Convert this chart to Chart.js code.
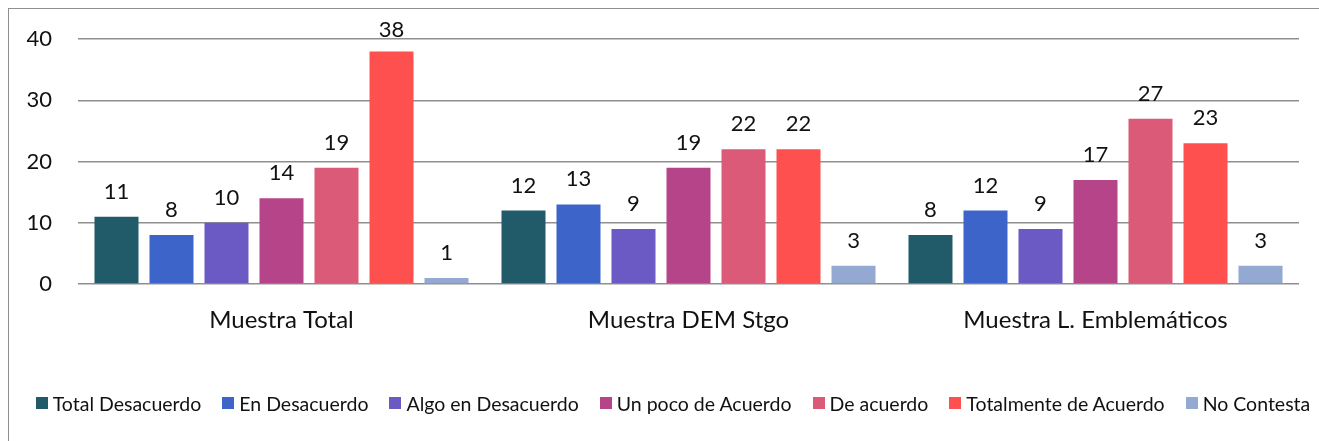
<!DOCTYPE html>
<html>
<head>
<meta charset="utf-8">
<script src="https://cdn.jsdelivr.net/npm/chart.js@4.4.1/dist/chart.umd.min.js"></script>
<style>
  html, body { margin: 0; padding: 0; background: #fff; overflow: hidden; }
  #wrap { position: relative; width: 1319px; height: 441px; }
  #frame { position: absolute; left: 8px; top: 8px; width: 1400px; height: 600px;
           border: 1.5px solid #8f8f8f; box-sizing: border-box; }
  canvas { position: absolute; left: 0; top: 0; }
  #leyenda { position: absolute; left: 0; top: 392px; width: 1346px; height: 22px;
             display: flex; justify-content: center; align-items: center; gap: 21px;
             font: 19.5px Lato, "DejaVu Sans", sans-serif; color: #111; white-space: nowrap; }
  #leyenda .item { display: flex; align-items: center; }
  #leyenda .caja { width: 12px; height: 12px; margin-right: 5px; }
</style>
</head>
<body>
<div id="wrap">
  <div id="frame"></div>
  <canvas id="chart" width="1319" height="441"></canvas>
  <div id="leyenda"></div>
</div>
<script>
// categorías y series
const categorias = ['Muestra Total', 'Muestra DEM Stgo', 'Muestra L. Emblemáticos'];
const series = ['Total Desacuerdo', 'En Desacuerdo', 'Algo en Desacuerdo', 'Un poco de Acuerdo',
                'De acuerdo', 'Totalmente de Acuerdo', 'No Contesta'];
const totalDesacuerdo = [11, 12, 8];
const enDesacuerdo = [8, 13, 12];
const algoEnDesacuerdo = [10, 9, 9];
const unPocoDeAcuerdo = [14, 19, 17];
const deAcuerdo = [19, 22, 27];
const totalmenteDeAcuerdo = [38, 22, 23];
const noContesta = [1, 3, 3];
const yTicks = [0, 10, 20, 30, 40];

const colores = ['#215a68', '#3c64c9', '#6b5ac4', '#b54588', '#db5a77', '#ff5050', '#94a9d1'];
const valores = [totalDesacuerdo, enDesacuerdo, algoEnDesacuerdo, unPocoDeAcuerdo,
                 deAcuerdo, totalmenteDeAcuerdo, noContesta];

const FUENTE = 'Lato, "DejaVu Sans", sans-serif';

// etiquetas con el valor encima de cada barra
const etiquetasValor = {
    id: 'etiquetasValor',
    afterDatasetsDraw(chart) {
        const ctx = chart.ctx;
        ctx.save();
        ctx.font = '22px ' + FUENTE;
        ctx.fillStyle = '#111';
        ctx.textAlign = 'center';
        ctx.textBaseline = 'alphabetic';
        chart.data.datasets.forEach((ds, i) => {
            chart.getDatasetMeta(i).data.forEach((bar, j) => {
                const y = Math.max(bar.y - 18, 37);
                ctx.fillText(String(ds.data[j]), bar.x, y);
            });
        });
        ctx.restore();
    }
};

const grafico = new Chart(document.getElementById('chart'), {
    type: 'bar',
    data: {
        labels: categorias,
        datasets: series.map((nombre, i) => ({
            label: nombre,
            data: valores[i],
            backgroundColor: colores[i],
            borderWidth: 0,
            categoryPercentage: 0.946,
            barPercentage: 0.8
        }))
    },
    options: {
        responsive: false,
        animation: false,
        layout: { padding: { top: 38, right: 20, left: 0, bottom: 0 } },
        plugins: {
            tooltip: { enabled: false },
            legend: { display: false }
        },
        scales: {
            x: {
                grid: { display: false, drawTicks: false },
                border: { display: false },
                ticks: { color: '#111', padding: 22, font: { family: FUENTE, size: 24 } },
                afterFit(scale) { scale.height = 157; }
            },
            y: {
                min: 0,
                max: 40,
                afterBuildTicks(scale) { scale.ticks = yTicks.map(v => ({ value: v })); },
                afterFit(scale) { scale.width = 78; },
                grid: { color: '#8f8f8f', lineWidth: 1.5, drawTicks: false },
                border: { display: false },
                ticks: { color: '#111', padding: 26, font: { family: FUENTE, size: 22 } }
            }
        }
    },
    plugins: [etiquetasValor]
});

// leyenda inferior a partir de los datasets
const leyenda = document.getElementById('leyenda');
grafico.data.datasets.forEach(ds => {
    const item = document.createElement('span');
    item.className = 'item';
    item.innerHTML = `<span class="caja" style="background:${ds.backgroundColor}"></span>${ds.label}`;
    leyenda.appendChild(item);
});
</script>
</body>
</html>
